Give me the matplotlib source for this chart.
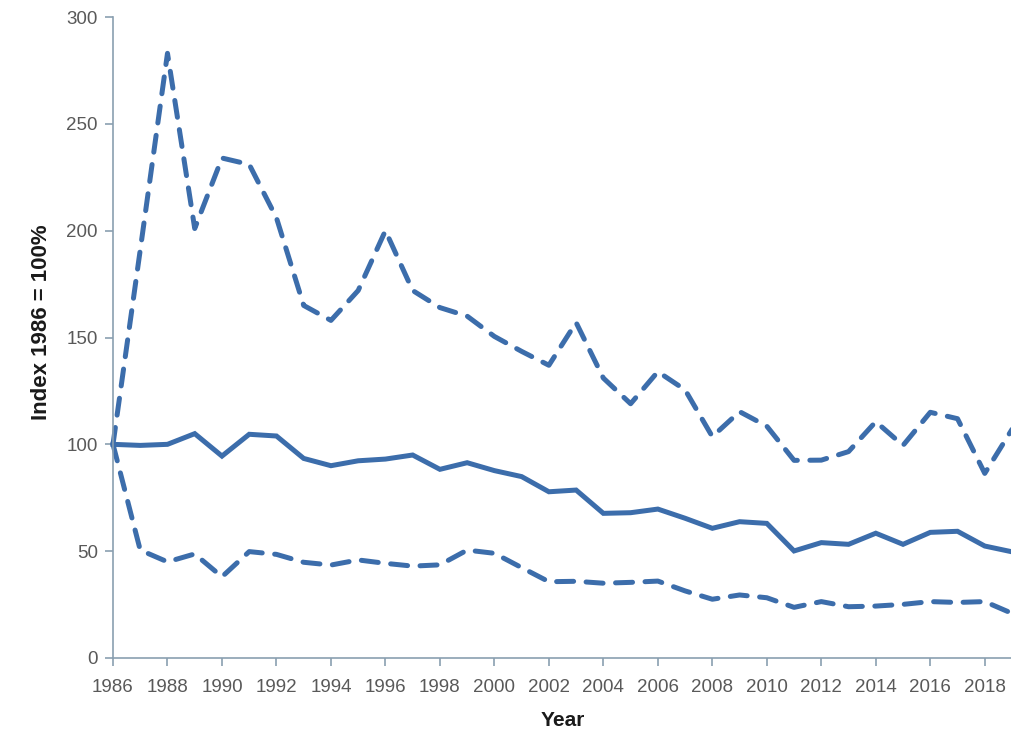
import matplotlib
matplotlib.use('Agg')
import matplotlib.pyplot as plt

years = list(range(1986, 2020))

# central index estimate
index_mid = [100, 99.5, 100, 105, 94.5, 104.7, 103.9, 93.4, 90, 92.3,
             93.1, 95, 88.3, 91.4, 87.7, 84.9, 77.8, 78.6, 67.7, 68,
             69.7, 65.4, 60.7, 63.8, 63, 50.1, 54, 53.2, 58.4, 53.2,
             58.8, 59.3, 52.4, 49.7]

# upper and lower bounds
index_upper = [100, 191, 283, 201, 234, 231, 206, 165, 158, 172,
               200, 172, 164, 160, 150.5, 143.5, 137, 157, 131, 119,
               134, 125.5, 103.6, 115.3, 108.5, 92.5, 92.6, 96.6, 110.6, 99.5,
               115, 112, 86.4, 107]
index_lower = [100, 50.5, 45, 48.7, 38, 49.8, 48.5, 44.8, 43.5, 45.9,
               44.3, 43, 43.6, 50.5, 49, 42.3, 35.7, 35.9, 35, 35.4,
               36, 31.4, 27.5, 29.5, 28.2, 23.7, 26.4, 24, 24.3, 25.1,
               26.4, 26, 26.4, 20.9]

x_ticks = list(range(1986, 2019, 2))
y_ticks = [0, 50, 100, 150, 200, 250, 300]

line_col = '#3c6dab'
axis_col = '#8a9fb0'
text_col = '#595959'
plt.rcParams['font.family'] = ['Liberation Sans', 'DejaVu Sans']

fig = plt.figure(figsize=(10.11, 7.33), dpi=100, facecolor='white')
ax = fig.add_axes([113 / 1011, 75 / 733, 899 / 1011, 641 / 733])

ax.plot(years, index_mid, color=line_col, linewidth=3.6,
        solid_joinstyle='miter', clip_on=False)
for series in (index_upper, index_lower):
    ax.plot(years, series, color=line_col, linewidth=3.6,
            linestyle=(0, (3.4, 2.5)), dash_capstyle='round', clip_on=False)

ax.set_xlim(1986, 2019)
ax.set_ylim(0, 300)
ax.set_xticks(x_ticks)
ax.set_yticks(y_ticks)

for side in ('top', 'right'):
    ax.spines[side].set_visible(False)
for side in ('left', 'bottom'):
    ax.spines[side].set_color(axis_col)
    ax.spines[side].set_linewidth(1.2)

ax.tick_params(axis='both', direction='out', length=6, width=1.2,
               color=axis_col, labelcolor=text_col, labelsize=13.5)
ax.tick_params(axis='x', pad=9)
ax.tick_params(axis='y', pad=5)

ax.set_xlabel('Year', fontsize=15, fontweight='bold', color='#1a1a1a',
              va='center')
ax.set_ylabel('Index 1986 = 100%', fontsize=16, fontweight='bold',
              color='#1a1a1a', va='center')
ax.xaxis.set_label_coords(0.5, -0.097)
ax.yaxis.set_label_coords(-0.079, 0.524)

fig.savefig('out.png', dpi=100, facecolor='white')
